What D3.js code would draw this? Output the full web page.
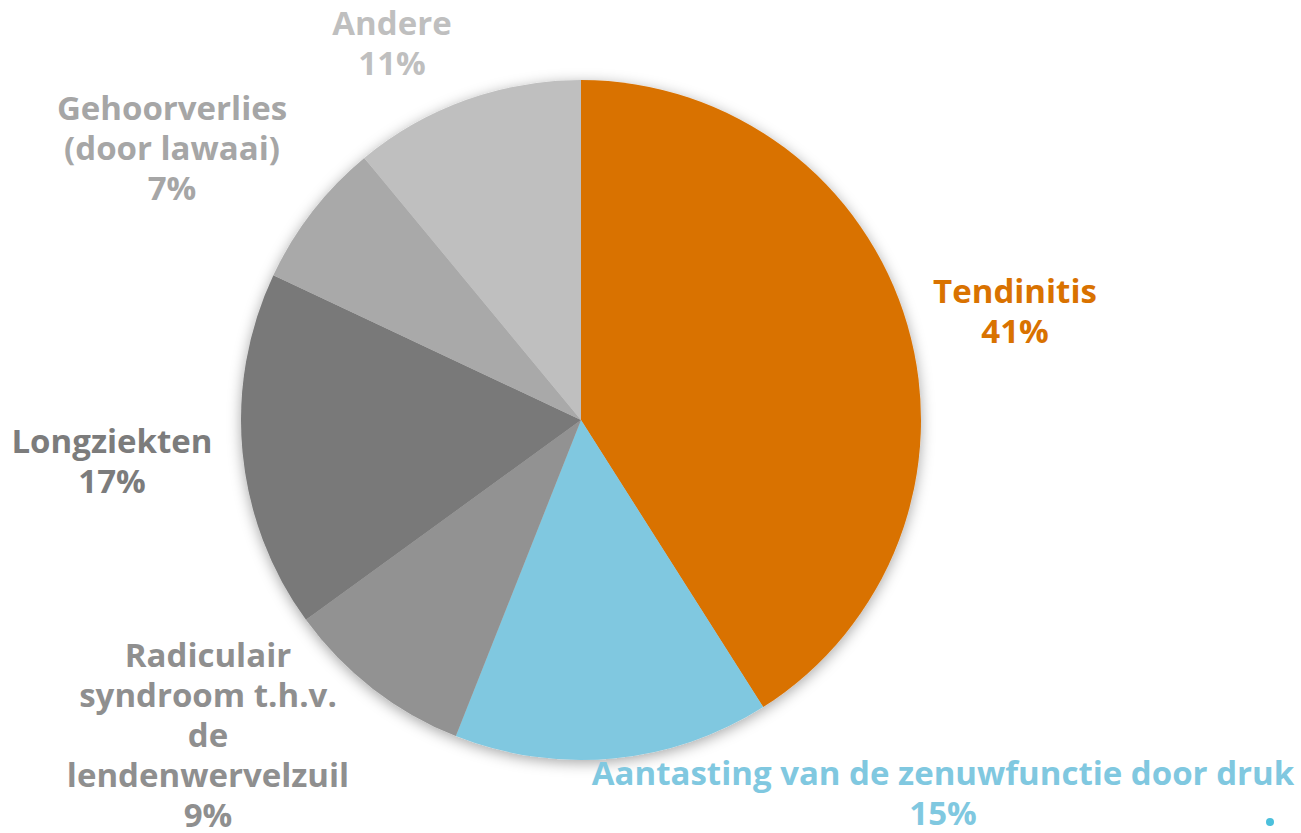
<!DOCTYPE html>
<html>
<head>
<meta charset="utf-8">
<script src="https://cdn.jsdelivr.net/npm/d3@7"></script>
<style>
  html, body { margin: 0; padding: 0; background: #ffffff; }
  svg { display: block; }
  text { font-family: "Open Sans", "Noto Sans", sans-serif; font-weight: 700; }
</style>
</head>
<body>
<svg id="chart" width="1301" height="833"></svg>
<script>
// ---- data ----
const categories = ["Tendinitis", "Aantasting van de zenuwfunctie door druk", "Radiculair syndroom t.h.v. de lendenwervelzuil", "Longziekten", "Gehoorverlies (door lawaai)", "Andere"];
const labelLines = [
  ["Tendinitis"],
  ["Aantasting van de zenuwfunctie door druk"],
  ["Radiculair", "syndroom t.h.v.", "de", "lendenwervelzuil"],
  ["Longziekten"],
  ["Gehoorverlies", "(door lawaai)"],
  ["Andere"]
];
const values = [41, 15, 9, 17, 7, 11];
const percentLabels = ["41%", "15%", "9%", "17%", "7%", "11%"];

// ---- styling / layout ----
const sliceColors = ["#D97200", "#80C8E0", "#929292", "#797979", "#A9A9A9", "#BFBFBF"];
const labelColors = ["#D97200", "#80C8E0", "#8F8F8F", "#7C7C7C", "#A6A6A6", "#BFBFBF"];
// label anchor: center x and first-line baseline y
const labelAnchors = [[1015, 303], [943, 785], [208, 667], [112, 453], [172, 120], [392, 35]];
const cx = 581, cy = 420, radius = 340;
const lineH = 40;
const fontSize = 33;

const svg = d3.select("#chart");
const defs = svg.append("defs");
const f = defs.append("filter").attr("id", "shadow")
  .attr("x", "-20%").attr("y", "-20%").attr("width", "140%").attr("height", "140%");
f.append("feDropShadow").attr("dx", 0).attr("dy", 3).attr("stdDeviation", 7)
  .attr("flood-color", "#000").attr("flood-opacity", 0.35);

const pie = d3.pie().sort(null).value(d => d)(values);
const arc = d3.arc().innerRadius(0).outerRadius(radius);

const g = svg.append("g").attr("transform", `translate(${cx},${cy})`);
g.append("g").attr("filter", "url(#shadow)")
  .selectAll("path").data(pie).join("path")
  .attr("d", arc)
  .attr("fill", (d, i) => sliceColors[i]);

const labels = svg.append("g").selectAll("text").data(pie).join("text")
  .attr("text-anchor", "middle")
  .attr("font-size", fontSize)
  .attr("fill", (d, i) => labelColors[i]);

labels.each(function(d, i) {
  const t = d3.select(this);
  const [x, y] = labelAnchors[i];
  const lines = labelLines[i].concat([percentLabels[i]]);
  lines.forEach((ln, k) => {
    t.append("tspan").attr("x", x).attr("y", y + k * lineH).text(ln);
  });
});

// small decorative dot
svg.append("circle").attr("cx", 1270).attr("cy", 822).attr("r", 4).attr("fill", "#4CC0DC");
</script>
</body>
</html>
